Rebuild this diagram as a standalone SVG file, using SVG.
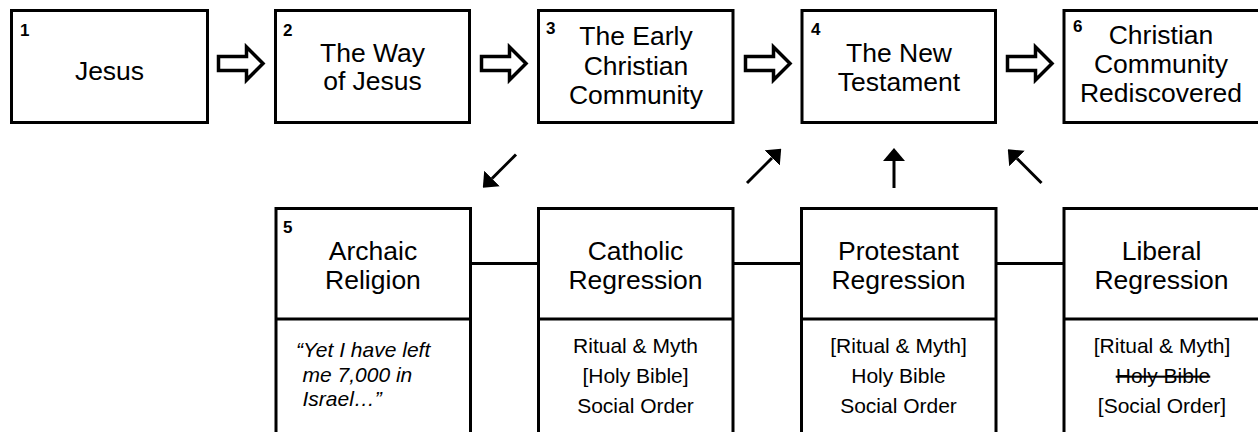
<svg xmlns="http://www.w3.org/2000/svg" width="1258" height="432" viewBox="0 0 1258 432">
<style>
.box{fill:#fff;stroke:#000;stroke-width:3}
.t{font-family:"Liberation Sans",Arial,sans-serif;font-size:26.5px;text-anchor:middle;fill:#000}
.l{font-family:"Liberation Sans",Arial,sans-serif;font-size:21px;text-anchor:middle;fill:#000}
.q{font-family:"Liberation Sans",Arial,sans-serif;font-size:21px;font-style:italic;fill:#000}
.n{font-family:"Liberation Sans",Arial,sans-serif;font-size:17px;font-weight:bold;fill:#000}
.c{stroke:#000;stroke-width:3;fill:none}
.ha{fill:#fff;stroke:#000;stroke-width:3.5;stroke-linejoin:miter}
</style>
<defs>
<marker id="ah" viewBox="0 0 13 22" refX="0" refY="11" markerWidth="13" markerHeight="22" markerUnits="userSpaceOnUse" orient="auto"><path d="M0,0 L13,11 L0,22 z" fill="#000"/></marker>
<polygon id="hollow" points="218.5,56.5 246.5,56.5 246.5,47 263,63.5 246.5,80 246.5,70.5 218.5,70.5"/>
</defs>

<g id="connectors">
<use href="#hollow" class="ha"/>
<use href="#hollow" class="ha" transform="translate(263,0)"/>
<use href="#hollow" class="ha" transform="translate(527,0)"/>
<use href="#hollow" class="ha" transform="translate(789,0)"/>
<line class="c" x1="516" y1="154.5" x2="492" y2="178.5" marker-end="url(#ah)"/>
<line class="c" x1="747" y1="183" x2="772" y2="158" marker-end="url(#ah)"/>
<line class="c" x1="894" y1="188" x2="894" y2="161" marker-end="url(#ah)"/>
<line class="c" x1="1041.5" y1="183" x2="1017" y2="158.5" marker-end="url(#ah)"/>
<line class="c" x1="470" y1="263.5" x2="539" y2="263.5"/>
<line class="c" x1="733" y1="263.5" x2="802" y2="263.5"/>
<line class="c" x1="996" y1="263.5" x2="1065" y2="263.5"/>
</g>

<g id="node1">
<rect class="box" x="11.5" y="10.5" width="196" height="112"/>
<text class="n" x="20" y="36">1</text>
<text class="t" x="109.5" y="80">Jesus</text>
</g>
<g id="node2">
<rect class="box" x="275.5" y="10.5" width="194" height="112"/>
<text class="n" x="283" y="36">2</text>
<text class="t" x="372.5" y="62">The Way</text>
<text class="t" x="372.5" y="90">of Jesus</text>
</g>
<g id="node3">
<rect class="box" x="538.5" y="10.5" width="194.5" height="112"/>
<text class="n" x="546" y="34">3</text>
<text class="t" x="636" y="45">The Early</text>
<text class="t" x="636" y="75">Christian</text>
<text class="t" x="636" y="104">Community</text>
</g>
<g id="node4">
<rect class="box" x="802" y="10.5" width="193.5" height="112"/>
<text class="n" x="811" y="35">4</text>
<text class="t" x="899" y="62">The New</text>
<text class="t" x="899" y="91">Testament</text>
</g>
<g id="node6">
<rect class="box" x="1064" y="10.5" width="210" height="112"/>
<text class="n" x="1073" y="32">6</text>
<text class="t" x="1161" y="44">Christian</text>
<text class="t" x="1161" y="73">Community</text>
<text class="t" x="1161" y="102">Rediscovered</text>
</g>

<g id="node5">
<rect class="box" x="276" y="208.5" width="194.5" height="240"/>
<line class="c" x1="276" y1="319" x2="470.5" y2="319"/>
<text class="n" x="283" y="233">5</text>
<text class="t" x="373" y="260">Archaic</text>
<text class="t" x="373" y="289">Religion</text>
<text class="q" x="296" y="357">“Yet I have left</text>
<text class="q" x="302.5" y="382">me 7,000 in</text>
<text class="q" x="302.5" y="406">Israel…”</text>
</g>
<g id="node-catholic">
<rect class="box" x="538.5" y="208.5" width="194.5" height="240"/>
<line class="c" x1="538.5" y1="319" x2="733" y2="319"/>
<text class="t" x="635.5" y="260">Catholic</text>
<text class="t" x="635.5" y="289">Regression</text>
<text class="l" x="635.5" y="353">Ritual &amp; Myth</text>
<text class="l" x="635.5" y="383">[Holy Bible]</text>
<text class="l" x="635.5" y="413">Social Order</text>
</g>
<g id="node-protestant">
<rect class="box" x="801.5" y="208.5" width="194.5" height="240"/>
<line class="c" x1="801.5" y1="319" x2="996" y2="319"/>
<text class="t" x="898.5" y="260">Protestant</text>
<text class="t" x="898.5" y="289">Regression</text>
<text class="l" x="898.5" y="353">[Ritual &amp; Myth]</text>
<text class="l" x="898.5" y="383">Holy Bible</text>
<text class="l" x="898.5" y="413">Social Order</text>
</g>
<g id="node-liberal">
<rect class="box" x="1064" y="208.5" width="210" height="240"/>
<line class="c" x1="1064" y1="319" x2="1274" y2="319"/>
<text class="t" x="1161.5" y="260">Liberal</text>
<text class="t" x="1161.5" y="289">Regression</text>
<text class="l" x="1162" y="353">[Ritual &amp; Myth]</text>
<text class="l" x="1163" y="383" text-decoration="line-through">Holy Bible</text>
<text class="l" x="1162" y="413">[Social Order]</text>
</g>
</svg>
